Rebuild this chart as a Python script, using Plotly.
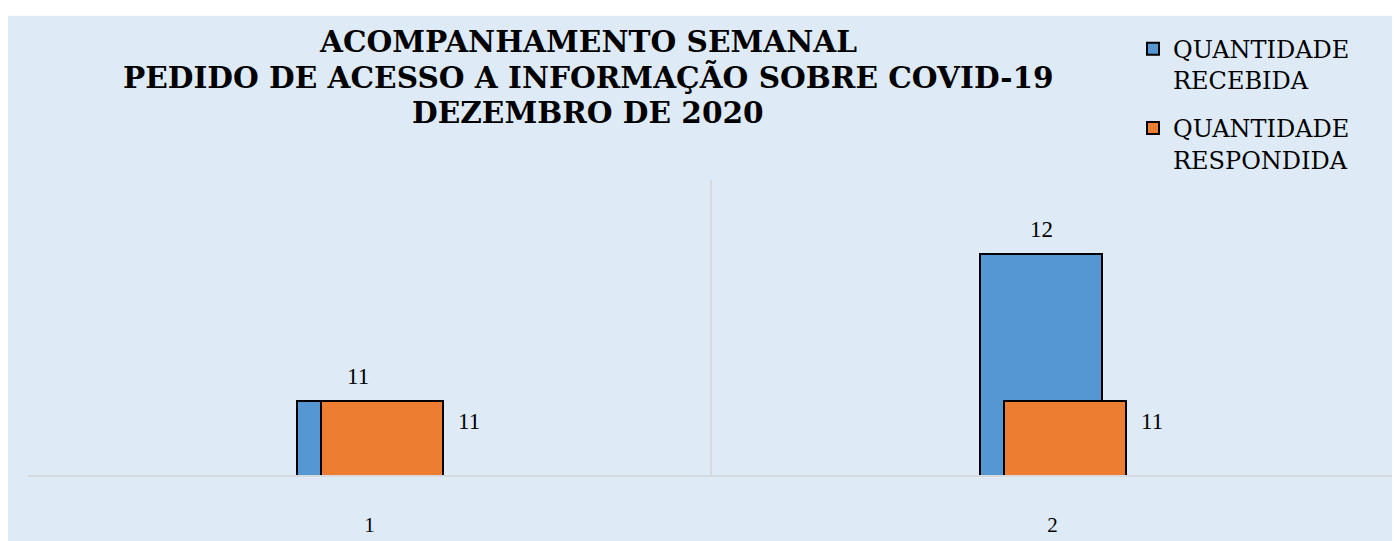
import plotly.graph_objects as go

categories = [1, 2]
tick_labels = ["1", "2"]
recebida = [11, 12]
respondida = [11, 11]
series_names = ["QUANTIDADE<br>RECEBIDA", "QUANTIDADE<br>RESPONDIDA"]
title_lines = ["ACOMPANHAMENTO SEMANAL",
               "PEDIDO DE ACESSO A INFORMAÇÃO SOBRE COVID-19",
               "DEZEMBRO DE 2020"]

BG = "#DEEAF6"
BLUE = "#5597D3"
ORANGE = "#ED7D31"
GRID = "#D6D9DE"
FONT = "Liberation Serif"
TFONT = "DejaVu Serif"

# page body has an 8px margin: figure pixel = screen pixel - 8
W, H = 1400, 541
L, R, T, B = 20, 14, 172, 71
pw = W - L - R
ph = H - T - B


def px_x(fx):
    return (fx - L) / pw


def px_y(fy):
    return (T + ph - fy) / ph


bar_w = 0.1786
off_blue = -0.106
off_orange = -0.071

fig = go.Figure()
fig.add_trace(go.Bar(
    x=categories, y=recebida, name=series_names[0],
    width=bar_w, offset=off_blue,
    marker=dict(color=BLUE, line=dict(color="black", width=2)),
    legendgroup="a",
))
fig.add_trace(go.Bar(
    x=categories, y=respondida, name=series_names[1],
    width=bar_w, offset=off_orange,
    marker=dict(color=ORANGE, line=dict(color="black", width=2)),
    legendgroup="b",
))

annotations = []
for c, v in zip(categories, recebida):
    annotations.append(dict(
        x=c + off_blue + bar_w / 2, y=v, xref="x", yref="y",
        text=str(v), showarrow=False, xanchor="center", yanchor="bottom",
        yshift=10, font=dict(family=FONT, size=23, color="black")))
for c, v in zip(categories, respondida):
    annotations.append(dict(
        x=c + off_orange + bar_w, y=v, xref="x", yref="y",
        text=str(v), showarrow=False, xanchor="left", yanchor="middle",
        xshift=13, yshift=-20, font=dict(family=FONT, size=23, color="black")))

# title lines (screen centres y = 40, 75.5, 111; x centre 588)
for line, sy in zip(title_lines, [38, 74.5, 110]):
    annotations.append(dict(
        x=px_x(588 - 8), y=px_y(sy - 8 + 2), xref="paper", yref="paper",
        text="<b>" + line + "</b>", showarrow=False,
        xanchor="center", yanchor="middle",
        font=dict(family=TFONT, size=29.6, color="black")))

fig.add_shape(
    type="rect", xref="paper", yref="paper",
    x0=px_x(0), x1=px_x(W + 10),
    y0=px_y(H + 10), y1=px_y(6),
    fillcolor=BG, line=dict(width=0), layer="below")

fig.update_layout(
    width=W, height=H,
    margin=dict(l=L, r=R, t=T, b=B, pad=0),
    paper_bgcolor="white", plot_bgcolor=BG,
    barmode="overlay",
    bargap=0,
    legend=dict(
        x=px_x(1125), xanchor="left",
        y=px_y(17), yanchor="top",
        bgcolor="rgba(0,0,0,0)",
        font=dict(family=TFONT, size=24, color="black"),
        valign="top", tracegroupgap=14,
        itemclick=False),
    annotations=annotations,
    showlegend=True,
)
fig.update_xaxes(
    range=[0.5, 2.5], tickvals=categories, ticktext=tick_labels,
    showgrid=False, zeroline=False,
    showline=True, linecolor=GRID, linewidth=2,
    ticks="", ticklabelstandoff=30,
    tickfont=dict(family=FONT, size=21, color="black"),
    minor=dict(tickvals=[0.5, 1.5, 2.5], showgrid=True, gridcolor=GRID, gridwidth=2),
)
fig.update_yaxes(range=[10.5, 12.5], visible=False, showgrid=False)

fig.write_html("out.html")
